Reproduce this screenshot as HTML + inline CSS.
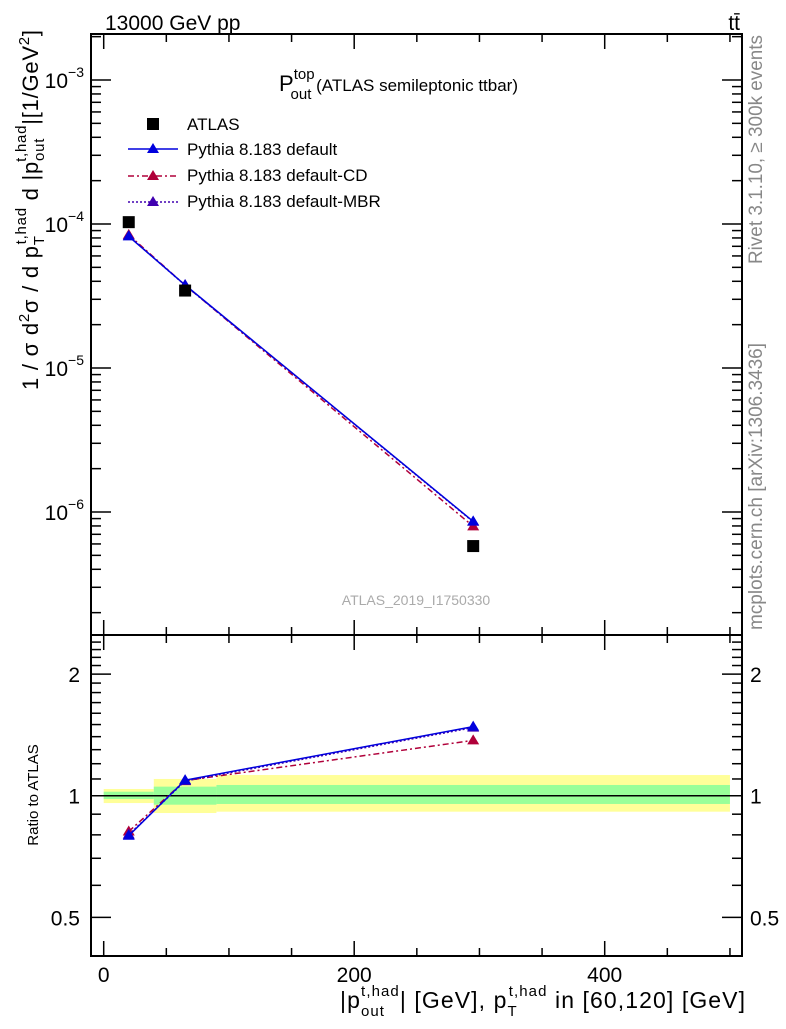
<!DOCTYPE html>
<html><head><meta charset="utf-8"><style>
body{margin:0;background:#fff;font-family:"Liberation Sans",sans-serif}
svg text{font-family:"Liberation Sans",sans-serif}
</style></head><body>
<svg id="c" width="786" height="1024" xmlns="http://www.w3.org/2000/svg">
<text x="105" y="30" font-size="21">13000 GeV pp</text>
<text x="740" y="30" font-size="21" text-anchor="end">tt̄</text>
<text x="279" y="91" font-size="22">P<tspan font-size="15" dy="-12">top</tspan><tspan font-size="15" dx="-24" dy="20">out</tspan><tspan font-size="17" dy="-8"> (ATLAS semileptonic ttbar)</tspan></text>
<text transform="translate(762,264) rotate(-90)" font-size="19" fill="#888" textLength="229" lengthAdjust="spacingAndGlyphs">Rivet 3.1.10, ≥ 300k events</text>
<text transform="translate(762,630) rotate(-90)" font-size="19" fill="#888" textLength="287" lengthAdjust="spacingAndGlyphs">mcplots.cern.ch [arXiv:1306.3436]</text>
<text x="416" y="605" font-size="14" fill="#aaa" text-anchor="middle">ATLAS_2019_I1750330</text>
<text transform="translate(38,390) rotate(-90)" font-size="22" textLength="360" lengthAdjust="spacing">1 / σ d<tspan font-size="15" dy="-9">2</tspan><tspan dy="9">σ / d p</tspan><tspan font-size="15" dy="6">T</tspan><tspan font-size="15" dx="-9" dy="-18">t,had</tspan><tspan dy="12"> d |p</tspan><tspan font-size="15" dy="6">out</tspan><tspan font-size="15" dx="-24" dy="-18">t,had</tspan><tspan dy="12">|[1/GeV</tspan><tspan font-size="15" dy="-9">2</tspan><tspan dy="9">]</tspan></text>
<text transform="translate(38,795) rotate(-90)" font-size="15" text-anchor="middle">Ratio to ATLAS</text>
<text x="340" y="1008" font-size="23" textLength="405" lengthAdjust="spacing">|p<tspan font-size="15" dy="8">out</tspan><tspan font-size="15" dx="-24" dy="-20">t,had</tspan><tspan dy="12">| [GeV], p</tspan><tspan font-size="15" dy="8">T</tspan><tspan font-size="15" dx="-9" dy="-20">t,had</tspan><tspan dy="12"> in [60,120] [GeV]</tspan></text>
<g id="legend">
<rect x="147" y="118" width="12" height="12" fill="#000"/>
<text x="187" y="130" font-size="17">ATLAS</text>
<line x1="128" y1="149" x2="178" y2="149" stroke="#0000dd" stroke-width="1.5"/>
<path d="M153,143 L159,153 L147,153 Z" fill="#0000dd"/>
<text x="187" y="155" font-size="17">Pythia 8.183 default</text>
<line x1="128" y1="176" x2="178" y2="176" stroke="#b0003a" stroke-width="1.5" stroke-dasharray="6,3,2,3"/>
<path d="M153,170 L159,180 L147,180 Z" fill="#b0003a"/>
<text x="187" y="181" font-size="17">Pythia 8.183 default-CD</text>
<line x1="128" y1="202" x2="178" y2="202" stroke="#4000b0" stroke-width="1.5" stroke-dasharray="2,2"/>
<path d="M153,196 L159,206 L147,206 Z" fill="#4000b0"/>
<text x="187" y="207" font-size="17">Pythia 8.183 default-MBR</text>
</g>
</svg>
<script>
const xs=[20,65,295];
const atlas=[1.03e-4,3.45e-5,5.8e-7];
const mcDefault=[8.2e-5,3.77e-5,8.6e-7];
const mcCD=[8.4e-5,3.76e-5,7.95e-7];
const mcMBR=[8.25e-5,3.75e-5,8.55e-7];
const binEdges=[0,40,90,500];
const bandYellowHi=[1.039,1.10,1.125];
const bandYellowLo=[0.959,0.906,0.913];
const bandGreenHi=[1.023,1.053,1.063];
const bandGreenLo=[0.981,0.95,0.954];
const xTicks=[0,200,400];
const yTicksMain=[-6,-5,-4,-3];
const yTicksRatio=[0.5,1,2];

const NS='http://www.w3.org/2000/svg';
const svg=document.getElementById('c');
const L=91,R=742,T=34,MB=635,RB=956;
const X=v=>103.7+v*1.2525;
const Y=v=>80-(Math.log10(v)+3)*144;
const YR=v=>795.7-Math.log10(v)*404;
function el(t,a,p){const e=document.createElementNS(NS,t);for(const k in a)e.setAttribute(k,a[k]);(p||svg).appendChild(e);return e;}
const g=el('g',{});


for(let i=0;i<3;i++){
 const r1=el('rect',{x:X(binEdges[i]),y:YR(bandYellowHi[i]),width:X(binEdges[i+1])-X(binEdges[i]),height:YR(bandYellowLo[i])-YR(bandYellowHi[i]),fill:'#ffff99'},g);
 
 
}
for(let i=0;i<3;i++){
 const r2=el('rect',{x:X(binEdges[i]),y:YR(bandGreenHi[i]),width:X(binEdges[i+1])-X(binEdges[i]),height:YR(bandGreenLo[i])-YR(bandGreenHi[i]),fill:'#99ff99'},g);
 
 
}
const ref=el('line',{x1:X(0),x2:X(500),y1:YR(1),y2:YR(1),stroke:'#000','stroke-width':1.5},g);


for(const [y1,y2,n] of [[T,MB,'main-frame'],[MB,RB,'ratio-frame']]){
 const f=el('rect',{x:L,y:y1,width:R-L,height:y2-y1,fill:'none',stroke:'#000','stroke-width':2},g);
 
 
}
for(let v=0;v<=500;v+=50){
 const big=v%200===0, len=big?15:8;
 for(const [a,b] of [[T,T+len],[MB-len,MB],[MB,MB+len],[RB-len,RB]]) el('line',{x1:X(v),x2:X(v),y1:a,y2:b,stroke:'#000','stroke-width':1.5},g);
}
xTicks.forEach(v=>{const t=el('text',{x:X(v),y:982,'font-size':21,'text-anchor':'middle'});t.textContent=v;
 
 });
for(let d=-7;d<=-3;d++)for(let m=1;m<10;m++){const v=m*Math.pow(10,d),y=Y(v);if(y<T||y>MB)continue;const len=m===1?20:10;
 el('line',{x1:L,x2:L+len,y1:y,y2:y,stroke:'#000','stroke-width':1.5},g);el('line',{x1:R-len,x2:R,y1:y,y2:y,stroke:'#000','stroke-width':1.5},g);}
yTicksMain.forEach(d=>{const t=el('text',{x:84,y:Y(Math.pow(10,d))+8,'font-size':21,'text-anchor':'end'});t.innerHTML='10<tspan font-size="14" dy="-11">'+(d<0?'−':'')+Math.abs(d)+'</tspan>';
 
 });
[0.4,0.5,0.6,0.7,0.8,0.9,1,1.1,1.2,1.3,1.4,1.5,1.6,1.7,1.8,1.9,2,2.1,2.2,2.3,2.4,2.5].forEach(v=>{const y=YR(v);if(y<MB||y>RB)return;const big=yTicksRatio.includes(v),len=big?20:10;
 el('line',{x1:L,x2:L+len,y1:y,y2:y,stroke:'#000','stroke-width':1.5},g);el('line',{x1:R-len,x2:R,y1:y,y2:y,stroke:'#000','stroke-width':1.5},g);});
yTicksRatio.forEach(v=>{for(const [x,a] of [[80,'end'],[750,'start']]){const t=el('text',{x:x,y:YR(v)+8,'font-size':21,'text-anchor':a});t.textContent=v;
 
 }});
const series=[[mcCD,'#b0003a','6,3,2,3','cd'],[mcMBR,'#4000b0','2,2','mbr'],[mcDefault,'#0000dd','','default']];
function tri(x,y,c,n){const p=el('path',{d:`M${x},${y-6} L${x+6},${y+4} L${x-6},${y+4} Z`,fill:c},g);
 
 }
series.forEach(([vals,c,da,n])=>{
 const l1=el('polyline',{points:xs.map((x,i)=>X(x)+','+Y(vals[i])).join(' '),fill:'none',stroke:c,'stroke-width':1.5,'stroke-dasharray':da},g);
 
 
 const l2=el('polyline',{points:xs.map((x,i)=>X(x)+','+YR(vals[i]/atlas[i])).join(' '),fill:'none',stroke:c,'stroke-width':1.5,'stroke-dasharray':da},g);
 
 
 xs.forEach((x,i)=>{tri(X(x),Y(vals[i]),c,'point-'+n);tri(X(x),YR(vals[i]/atlas[i]),c,'ratio-point-'+n);});
});
xs.forEach((x,i)=>{const r=el('rect',{x:X(x)-6,y:Y(atlas[i])-6,width:12,height:12,fill:'#000'},g);
 
 });
</script>
</body></html>
